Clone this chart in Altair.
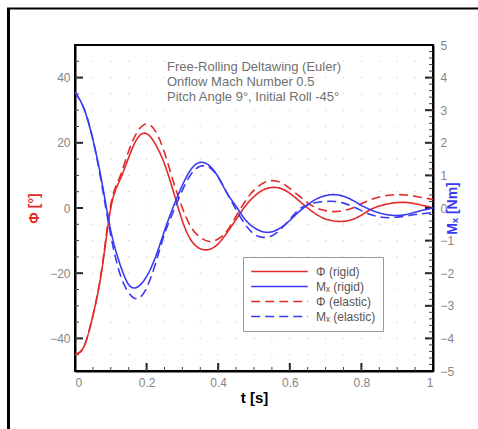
import altair as alt
import pandas as pd

# ---------------- data ----------------
T = [0, 0.025, 0.05, 0.075, 0.1, 0.125, 0.15, 0.175, 0.2, 0.225, 0.25, 0.275, 0.3,
     0.325, 0.35, 0.375, 0.4, 0.425, 0.45, 0.475, 0.5, 0.525, 0.55, 0.575, 0.6,
     0.625, 0.65, 0.675, 0.7, 0.725, 0.75, 0.775, 0.8, 0.825, 0.85, 0.875, 0.9,
     0.925, 0.95, 0.975, 1.0]

PHI_RIGID = [-45, -42.5, -33, -19, 0, 8.5, 15.5, 21.5, 22.8, 19.5, 13.5, 5, -4,
             -10, -12.5, -12.7, -11, -7.5, -3.5, 0.5, 3.5, 5.5, 6.3, 6, 4.5,
             2.3, 0, -2, -3.4, -4, -4.1, -3.5, -2.2, -0.5, 0.6, 1.3, 1.65,
             1.7, 1.3, 0.7, 0]

PHI_ELASTIC = [-45, -42.5, -33, -18.5, 1, 9.5, 17.5, 23.5, 25.8, 23.5, 17, 8, 0,
               -6, -9, -10.3, -9.5, -7, -2.5, 2, 5.5, 7.6, 8.4, 7.8, 6,
               3.8, 1.6, 0, -0.8, -1.1, -0.8, 0, 1.3, 2.5, 3.4, 3.9, 4.1,
               4, 3.6, 3.1, 2.6]

M_RIGID = [3.55, 3.05, 2.1, 0.8, -0.7, -1.7, -2.35, -2.42, -2.1, -1.5, -0.7, 0.05, 0.7,
           1.2, 1.4, 1.3, 0.95, 0.45, 0.05, -0.35, -0.6, -0.73, -0.73, -0.6, -0.38,
           -0.12, 0.1, 0.28, 0.38, 0.41, 0.36, 0.24, 0.08, -0.05, -0.15, -0.21, -0.23,
           -0.2, -0.13, -0.06, 0]

M_ELASTIC = [3.55, 3.05, 2.1, 0.7, -0.85, -2.0, -2.6, -2.78, -2.45, -1.7, -0.8, -0.1, 0.55,
             1.05, 1.28, 1.25, 0.95, 0.45, -0.05, -0.5, -0.8, -0.9, -0.85, -0.65, -0.35,
             -0.05, 0.1, 0.17, 0.2, 0.2, 0.15, 0.05, -0.08, -0.2, -0.27, -0.3, -0.28,
             -0.25, -0.2, -0.17, -0.14]

SERIES = ["Φ  (rigid)", "Mₓ (rigid)", "Φ  (elastic)", "Mₓ (elastic)"]

ANNOT_LINES = ["Free-Rolling Deltawing (Euler)",
               "Onflow Mach Number 0.5",
               "Pitch Angle 9°, Initial Roll -45°"]
ANNOT_T = [0.257, 0.257, 0.257]
ANNOT_V = [43.4, 38.8, 34.2]

X_MAJOR = [0.2, 0.4, 0.6, 0.8]
X_LABELS = [0, 0.2, 0.4, 0.6, 0.8, 1.0]
X_MINOR = [round(0.05 * i, 2) for i in range(1, 20)]
L_MAJOR = [-40, -20, 0, 20, 40]
L_MINOR = [5 * j for j in range(-9, 10)]
R_MAJOR = [-4, -3, -2, -1, 0, 1, 2, 3, 4]
R_LABELS = [-5, -4, -3, -2, -1, 0, 1, 2, 3, 4, 5]
R_MINOR = [round(0.2 * k, 1) for k in range(-24, 25)]

# ---------------- styling ----------------
RED = "#e32a2a"
BLUE = "#3a3af2"
FONT = "Liberation Sans"
W, H = 358, 326

n = len(T)
phi_df = pd.DataFrame({"t": T * 2, "v": PHI_RIGID + PHI_ELASTIC,
                       "series": [SERIES[0]] * n + [SERIES[2]] * n})
m_df = pd.DataFrame({"t": T * 2, "v": M_RIGID + M_ELASTIC,
                     "series": [SERIES[1]] * n + [SERIES[3]] * n})

x_axis = alt.Axis(values=X_LABELS, format=".1~f", tickSize=0, grid=False,
                  labelFont=FONT, labelFontSize=12, labelColor="#858585", labelPadding=6,
                  title="t [s]", titleFont=FONT, titleFontSize=15, titleFontWeight="bold",
                  titleColor="black", titlePadding=2, domainColor="black", domainWidth=2)
x_scale = alt.Scale(domain=[0, 1], nice=False, zero=False)
X = alt.X("t:Q", scale=x_scale, axis=x_axis)

l_axis = alt.Axis(values=L_MAJOR, tickSize=0, grid=False, labelFont=FONT, labelFontSize=12,
                  labelColor="#858585", labelPadding=5, title="Φ [°]", titleFont=FONT,
                  titleFontSize=14, titleFontWeight="bold", titleColor=RED, titlePadding=8,
                  domainColor="black", domainWidth=2)
l_scale = alt.Scale(domain=[-50, 50], nice=False, zero=False)
YL = alt.Y("v:Q", scale=l_scale, axis=l_axis)

r_axis = alt.Axis(orient="right", values=R_LABELS, tickSize=0, grid=False, labelFont=FONT,
                  labelFontSize=12, labelColor="#858585", labelPadding=7, title="Mₓ [Nm]",
                  titleFont=FONT, titleFontSize=14, titleFontWeight="bold", titleColor=BLUE,
                  titleAngle=270, titlePadding=6, domainColor="black", domainWidth=2)
r_scale = alt.Scale(domain=[-5, 5], nice=False, zero=False)
YR = alt.Y("v:Q", scale=r_scale, axis=r_axis)

legend = alt.Legend(title=None, orient="none", legendX=168, legendY=212,
                    symbolType="stroke", symbolSize=3200, symbolStrokeWidth=1.6,
                    clipHeight=15, labelFont=FONT, labelFontSize=12, labelColor="#555555",
                    labelOffset=7, strokeColor="#9a9a9a", fillColor="white",
                    padding=7, rowPadding=0)
color = alt.Color("series:N", scale=alt.Scale(domain=SERIES, range=[RED, BLUE, RED, BLUE]),
                  legend=legend)
dash = alt.StrokeDash("series:N", scale=alt.Scale(domain=SERIES,
                      range=[[1, 0], [1, 0], [9, 5], [9, 5]]), legend=legend)

# grid dots
grid_df = pd.DataFrame([(gx, gy) for gx in X_MINOR for gy in L_MINOR], columns=["t", "v"])
grid = alt.Chart(grid_df).mark_square(size=1.5, color="#d2d2d2", opacity=1).encode(x=X, y=YL)

# inward ticks
lmaj = alt.Chart(pd.DataFrame({"v": L_MAJOR})).mark_rule(color="#222", strokeWidth=2).encode(
    y=YL, x=alt.value(0), x2=alt.value(8))
lmin = alt.Chart(pd.DataFrame({"v": L_MINOR})).mark_rule(color="#444", strokeWidth=1).encode(
    y=YL, x=alt.value(0), x2=alt.value(4))
xmaj = alt.Chart(pd.DataFrame({"t": X_MAJOR})).mark_rule(color="#222", strokeWidth=2).encode(
    x=X, y=alt.value(H), y2=alt.value(H - 8))
xmin = alt.Chart(pd.DataFrame({"t": X_MINOR})).mark_rule(color="#444", strokeWidth=1).encode(
    x=X, y=alt.value(H), y2=alt.value(H - 4))
rmaj = alt.Chart(pd.DataFrame({"v": R_MAJOR})).mark_rule(color="#222", strokeWidth=2).encode(
    y=YR, x=alt.value(W - 8), x2=alt.value(W))
rmin = alt.Chart(pd.DataFrame({"v": R_MINOR})).mark_rule(color="#444", strokeWidth=1).encode(
    y=YR, x=alt.value(W - 4), x2=alt.value(W))

phi_lines = alt.Chart(phi_df).mark_line(strokeWidth=1.6, interpolate="natural").encode(
    x=X, y=YL, color=color, strokeDash=dash, detail="series:N")
m_lines = alt.Chart(m_df).mark_line(strokeWidth=1.6, interpolate="natural").encode(
    x=X, y=YR, color=color, strokeDash=dash, detail="series:N")

annot = alt.Chart(pd.DataFrame({"t": ANNOT_T, "v": ANNOT_V, "txt": ANNOT_LINES})).mark_text(
    align="left", baseline="middle", font=FONT, fontSize=13, color="#707070").encode(
    x=X, y=YL, text="txt:N")

# outer frame (decoration)
frame_v = alt.Chart(pd.DataFrame({"a": [0]})).mark_rule(color="black", strokeWidth=3).encode(
    x=alt.value(-66.5), y=alt.value(-37), y2=alt.value(H + 70))
frame_h = alt.Chart(pd.DataFrame({"a": [0]})).mark_rule(color="black", strokeWidth=2).encode(
    y=alt.value(-36.5), x=alt.value(-68), x2=alt.value(W + 50))

left = alt.layer(grid, lmaj, lmin, xmaj, xmin, frame_v, frame_h, phi_lines, annot)
right = alt.layer(rmaj, rmin, m_lines)

chart = alt.layer(left, right).resolve_scale(y="independent").properties(
    width=W, height=H, autosize="none",
    padding={"left": 75, "top": 45, "right": 45, "bottom": 58},
    background="white",
).configure_view(stroke="black", strokeWidth=2)

chart.save("out.html", embed_options={"renderer": "svg", "actions": False})
